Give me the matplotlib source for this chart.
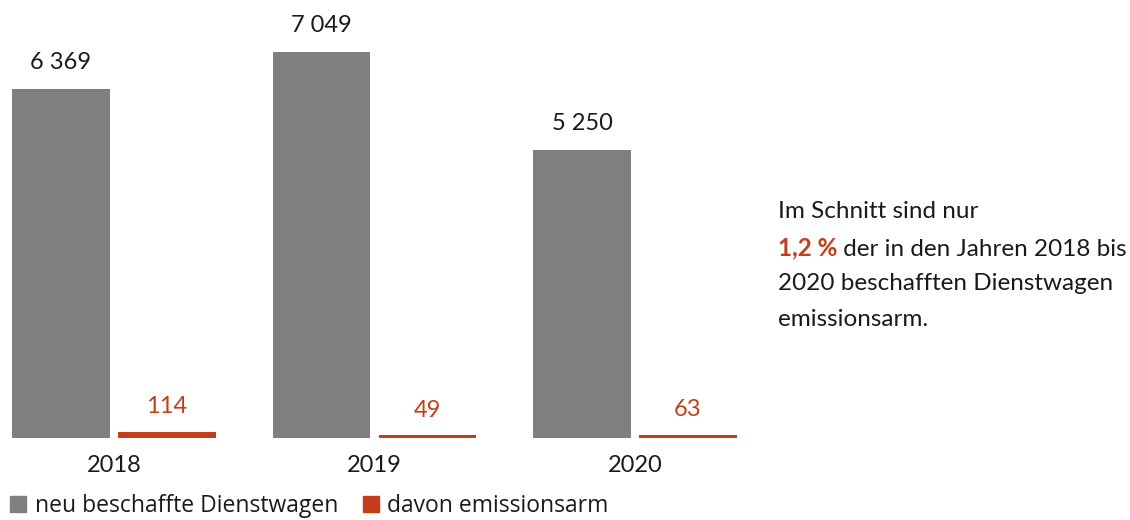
import matplotlib
matplotlib.use("Agg")
import matplotlib.pyplot as plt
from matplotlib.patches import Patch

years = ["2018", "2019", "2020"]
neu = [6369, 7049, 5250]
emissionsarm = [114, 49, 63]
neu_labels = ["6 369", "7 049", "5 250"]
em_labels = ["114", "49", "63"]
series_names = ["neu beschaffte Dienstwagen", "davon emissionsarm"]

GRAY = "#7f7f7f"
RED = "#C43E1C"
TXT = "#1a1a1a"
FONT = "Lato"
FS = 17

W, H = 1130, 520
fig = plt.figure(figsize=(W / 100, H / 100), dpi=100)
ax = fig.add_axes([0, 82 / H, 760 / W, 1 - 82 / H])

bw = 0.376
off = 0.2035
xs = list(range(len(years)))
ax.bar([x - off for x in xs], neu, width=bw, color=GRAY)
ax.bar([x + off for x in xs], emissionsarm, width=bw, color=RED)

for x, v, lab in zip(xs, neu, neu_labels):
    ax.annotate(lab, (x - off, v), xytext=(0, 19), textcoords="offset points",
                ha="center", va="center", fontsize=FS, color=TXT, family=FONT)
for x, v, lab in zip(xs, emissionsarm, em_labels):
    ax.annotate(lab, (x + off, v), xytext=(0, 18), textcoords="offset points",
                ha="center", va="center", fontsize=FS, color=RED, family=FONT)

ax.set_xlim((0 - 114) / 260.5, (760 - 114) / 260.5)
ax.set_ylim(0, 6369 * 438 / 349)
ax.set_xticks(xs)
ax.set_xticklabels(years, fontsize=FS, color=TXT, family=FONT)
ax.tick_params(axis="x", length=0, pad=12)
ax.set_yticks([])
for s in ax.spines.values():
    s.set_visible(False)

handles = [Patch(color=GRAY), Patch(color=RED)]
fig.legend(handles, series_names, loc="lower left", bbox_to_anchor=(-0.009, -0.036),
           ncol=2, frameon=False, handlelength=0.7, handleheight=0.7,
           handletextpad=0.35, columnspacing=1.1,
           prop={"family": "Open Sans", "size": 16.5}, labelcolor=TXT)

# annotation text on the right
x0 = 778 / W
ys = [212, 248, 284, 320]
fig.text(x0, 1 - ys[0] / H, "Im Schnitt sind nur", fontsize=FS + 0.5, color=TXT,
         family=FONT, va="center", ha="left")
t1 = fig.text(x0, 1 - ys[1] / H, "1,2 %", fontsize=FS + 0.5, color=RED, weight="bold",
              family=FONT, va="center", ha="left")
ax.annotate(" der in den Jahren 2018 bis", xy=(1, 0), xycoords=t1,
            va="bottom", ha="left", fontsize=FS + 0.5, color=TXT, family=FONT,
            annotation_clip=False)
fig.text(x0, 1 - ys[2] / H, "2020 beschafften Dienstwagen", fontsize=FS + 0.5, color=TXT,
         family=FONT, va="center", ha="left")
fig.text(x0, 1 - ys[3] / H, "emissionsarm.", fontsize=FS + 0.5, color=TXT,
         family=FONT, va="center", ha="left")

fig.savefig("out.png", dpi=100)
